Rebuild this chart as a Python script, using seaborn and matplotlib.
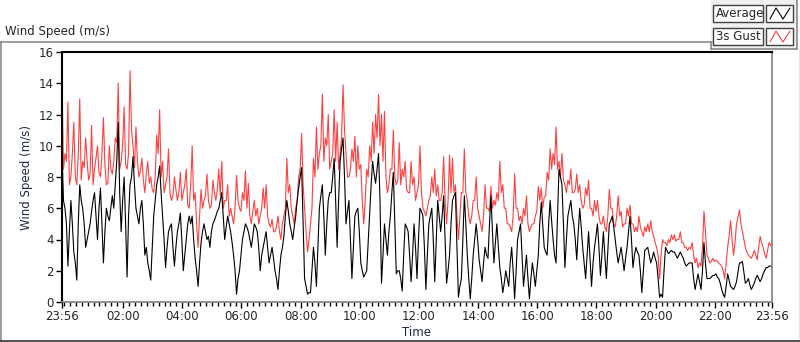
import pandas as pd
import seaborn as sns
import matplotlib.pyplot as plt
import matplotlib.dates as mdates
from matplotlib.lines import Line2D
from matplotlib.patches import Rectangle

# values, one sample every 6 minutes from 23:56 to 23:56
gust = [
    14.2, 9.5, 12.8, 8.0, 11.5, 7.5, 13.0, 9.0, 10.5, 7.8, 11.3, 8.5,
    10.0, 8.0, 11.8, 7.5, 10.0, 8.2, 10.5, 14.0, 9.0, 12.5, 8.5, 14.8,
    10.0, 11.2, 8.0, 9.2, 7.0, 9.0, 8.0, 7.0, 10.7, 12.3, 9.0, 7.5,
    9.8, 6.5, 8.0, 6.5, 8.3, 7.0, 8.5, 6.0, 10.0, 7.0, 3.5, 7.2,
    6.5, 8.2, 6.0, 7.8, 6.5, 8.5, 9.0, 6.5, 7.5, 6.0, 5.0, 8.1,
    6.0, 7.0, 8.4, 7.6, 5.0, 6.5, 6.0, 5.5, 7.3, 7.5, 5.0, 5.3,
    4.5, 5.5, 4.0, 5.5, 9.2, 7.5, 5.5, 6.0, 8.0, 10.8, 6.0, 3.2,
    5.0, 9.2, 11.2, 9.5, 13.3, 10.5, 12.0, 9.0, 12.3, 11.5, 9.5, 13.9,
    9.5, 8.0, 9.8, 10.6, 10.0, 8.8, 5.0, 8.5, 10.0, 11.5, 12.0, 13.3,
    12.0, 12.2, 7.0, 8.5, 11.0, 7.5, 10.2, 8.5, 9.0, 7.0, 9.0, 8.0,
    7.0, 10.0, 6.0, 5.5, 6.5, 8.0, 8.5, 7.5, 6.5, 9.3, 5.0, 9.4,
    9.2, 7.5, 4.0, 7.0, 9.8, 6.5, 5.0, 6.5, 8.0, 5.5, 4.5, 7.5,
    6.0, 7.4, 6.5, 7.0, 9.0, 7.5, 6.0, 5.0, 4.5, 8.2, 6.0, 5.5,
    6.0, 6.8, 4.5, 5.0, 5.5, 7.4, 7.3, 6.7, 8.3, 9.8, 9.5, 11.2,
    9.0, 9.5, 7.5, 7.8, 8.5, 7.0, 8.2, 7.5, 6.0, 7.3, 7.8, 6.0,
    6.5, 6.5, 5.0, 5.5, 4.5, 7.2, 6.0, 4.8, 6.8, 5.8, 5.0, 6.0,
    6.2, 5.0, 4.8, 5.5, 4.5, 4.8, 5.0, 5.2, 4.2, 3.5, 1.5, 4.0,
    3.8, 4.0, 4.3, 4.3, 4.0, 4.5, 3.8, 3.5, 3.5, 3.8, 2.5, 2.2,
    2.3, 5.8, 3.0, 2.5, 2.8, 2.7, 2.5, 2.3, 1.5, 3.5, 5.2, 3.0,
    5.0, 5.9, 4.5, 3.5, 3.0, 2.8, 3.3, 2.7, 4.2, 3.5, 2.8, 3.8,
    3.8,
]
average = [
    9.7, 6.0, 2.3, 6.5, 3.2, 1.4, 7.5, 6.0, 3.5, 4.5, 5.8, 7.0,
    4.0, 7.3, 2.5, 6.0, 5.2, 6.8, 7.5, 11.5, 4.5, 8.0, 1.6, 7.5,
    9.3, 6.0, 5.0, 6.5, 3.0, 2.5, 1.4, 5.5, 7.5, 8.7, 5.5, 2.2,
    4.5, 5.0, 2.3, 4.5, 5.7, 2.0, 4.0, 5.5, 5.5, 2.8, 1.0, 3.8,
    5.0, 4.0, 3.5, 5.0, 5.5, 6.0, 7.0, 4.0, 5.5, 4.5, 3.0, 0.5,
    2.0, 4.0, 5.0, 4.5, 3.5, 5.0, 4.5, 2.0, 3.5, 4.5, 2.5, 3.5,
    2.0, 0.8, 3.0, 4.2, 6.5, 5.0, 4.0, 5.5, 7.3, 8.6, 1.5, 0.5,
    0.6, 3.5, 1.0, 6.0, 7.5, 3.0, 6.5, 7.0, 9.2, 3.5, 9.0, 10.5,
    5.0, 6.5, 1.5, 5.5, 6.0, 2.5, 1.6, 2.0, 5.5, 9.0, 7.6, 9.5,
    1.2, 5.0, 3.0, 5.5, 8.3, 1.8, 2.0, 0.7, 5.0, 4.5, 1.3, 5.0,
    1.5, 6.0, 5.5, 0.8, 5.0, 6.0, 1.3, 6.5, 4.5, 6.8, 1.2, 3.0,
    6.5, 7.0, 0.3, 1.5, 6.8, 3.0, 0.2, 3.0, 5.0, 2.7, 1.3, 3.5,
    2.8, 6.8, 2.5, 5.0, 2.2, 0.6, 2.0, 1.0, 3.5, 0.2, 4.0, 5.0,
    1.0, 3.0, 0.2, 2.5, 1.0, 3.0, 6.4, 3.5, 3.0, 6.5, 4.0, 2.5,
    8.5, 7.5, 2.2, 5.5, 6.5, 5.0, 2.7, 6.0, 3.5, 1.5, 4.5, 1.0,
    3.5, 5.0, 1.7, 4.5, 1.5, 5.0, 5.5, 4.0, 2.5, 3.5, 2.0, 3.5,
    5.5, 2.2, 3.5, 3.0, 0.6, 3.3, 3.5, 2.5, 3.2, 2.5, 0.3, 0.3,
    3.5, 3.1, 3.3, 3.2, 2.8, 3.2, 2.8, 2.3, 2.5, 2.5, 0.8, 1.8,
    0.8, 3.8, 1.5, 1.5, 1.7, 1.8, 1.5, 0.8, 0.3, 1.8, 1.0, 0.8,
    1.3, 2.5, 2.6, 1.2, 1.5, 0.8, 1.2, 1.7, 1.3, 1.8, 2.2, 2.3,
    2.3,
]
# samples read between the ones above (3 minutes later each)
gust_between = [
    8.5, 9.0, 7.5, 9.5, 8.0, 9.5, 7.8, 8.6, 9.0, 8.2, 7.5, 9.2,
    8.3, 9.5, 8.8, 7.6, 8.5, 9.0, 10.2, 8.5, 10.0, 8.8, 9.5, 11.0,
    8.6, 9.0, 8.4, 7.8, 8.2, 7.6, 7.2, 8.0, 9.5, 8.0, 7.0, 8.0,
    7.0, 6.8, 7.2, 7.0, 6.5, 7.5, 6.2, 7.5, 6.5, 5.0, 5.5, 6.0,
    6.8, 6.5, 6.2, 7.0, 7.2, 6.8, 6.0, 6.5, 5.5, 5.5, 6.0, 6.5,
    5.8, 6.5, 6.0, 5.5, 5.8, 5.5, 5.0, 6.0, 6.0, 5.5, 4.8, 4.5,
    4.8, 4.5, 5.0, 6.0, 7.0, 6.0, 5.0, 6.5, 8.5, 7.5, 4.5, 4.0,
    6.0, 8.0, 8.5, 10.0, 9.0, 10.0, 8.5, 9.5, 9.0, 8.5, 10.5, 11.0,
    8.0, 8.5, 9.0, 8.0, 8.5, 6.5, 6.5, 8.0, 9.0, 9.5, 10.5, 10.0,
    9.0, 8.0, 7.5, 8.5, 8.0, 7.8, 7.5, 8.0, 7.2, 7.0, 7.5, 6.5,
    7.5, 7.0, 5.8, 6.0, 6.8, 7.0, 6.8, 6.5, 7.0, 6.5, 6.5, 7.0,
    7.0, 5.5, 5.5, 7.0, 7.0, 5.5, 5.5, 6.5, 6.0, 5.0, 5.5, 6.0,
    5.8, 6.0, 6.2, 6.5, 7.0, 6.0, 5.0, 4.8, 5.5, 6.0, 5.2, 5.0,
    5.5, 5.0, 4.8, 5.0, 5.8, 6.5, 6.0, 6.8, 7.8, 8.5, 8.8, 8.5,
    8.0, 7.8, 7.0, 7.5, 7.0, 7.2, 7.0, 6.5, 6.2, 6.8, 6.0, 5.5,
    5.8, 5.5, 5.0, 4.8, 5.5, 6.0, 5.0, 5.5, 5.5, 4.8, 5.0, 5.5,
    5.0, 4.5, 4.5, 4.8, 4.2, 4.5, 4.5, 4.5, 3.8, 3.0, 3.0, 3.8,
    3.6, 3.8, 4.0, 3.9, 4.0, 3.8, 3.5, 3.3, 3.4, 3.0, 2.8, 2.5,
    3.5, 4.5, 2.8, 2.6, 2.6, 2.6, 2.4, 2.0, 2.5, 4.2, 4.0, 3.8,
    5.4, 5.0, 4.0, 3.2, 2.9, 3.0, 3.0, 3.5, 3.8, 3.1, 3.3, 3.6,
]
average_between = [
    6.5, 5.0, 4.5, 5.0, 2.5, 5.0, 6.5, 5.0, 4.0, 5.0, 6.5, 5.5,
    6.0, 5.0, 4.5, 5.5, 6.0, 6.0, 9.0, 7.0, 6.5, 5.0, 5.5, 8.0,
    7.5, 5.5, 6.0, 5.0, 3.5, 2.0, 3.5, 6.5, 8.0, 7.0, 4.0, 3.5,
    4.8, 3.5, 3.5, 5.0, 4.0, 3.0, 5.0, 5.0, 4.0, 2.0, 2.5, 4.5,
    4.5, 4.2, 4.5, 5.2, 5.8, 6.5, 5.5, 4.8, 5.0, 3.8, 2.0, 1.5,
    3.0, 4.5, 4.8, 4.0, 4.2, 4.8, 3.5, 3.0, 4.0, 3.5, 3.0, 2.8,
    1.5, 2.0, 3.5, 5.5, 5.8, 4.5, 4.8, 6.5, 8.0, 5.0, 1.0, 0.6,
    2.0, 2.5, 3.5, 6.8, 5.5, 5.0, 7.0, 8.0, 6.5, 6.5, 9.8, 8.0,
    5.8, 4.0, 3.5, 5.8, 4.5, 2.0, 1.8, 3.8, 7.5, 8.2, 8.5, 6.5,
    3.0, 4.0, 4.5, 7.0, 5.0, 2.0, 1.5, 3.0, 4.8, 3.0, 3.0, 3.5,
    4.0, 5.8, 3.5, 3.0, 5.5, 4.0, 4.0, 5.5, 5.5, 4.0, 2.0, 5.0,
    6.8, 3.5, 1.0, 4.0, 5.0, 1.5, 1.5, 4.0, 4.0, 2.0, 2.5, 3.0,
    5.0, 4.5, 3.8, 3.5, 1.5, 1.2, 1.5, 2.5, 2.0, 2.0, 4.5, 3.0,
    2.0, 1.5, 1.5, 1.8, 2.0, 5.0, 5.0, 3.2, 5.0, 5.2, 3.0, 5.5,
    8.0, 5.0, 4.0, 6.0, 5.5, 4.0, 4.5, 4.8, 2.5, 3.0, 2.8, 2.5,
    4.2, 3.5, 3.0, 3.0, 3.2, 5.2, 4.8, 3.2, 3.0, 2.8, 2.8, 4.5,
    4.0, 3.0, 3.2, 2.0, 2.0, 3.4, 3.0, 2.8, 2.8, 1.5, 0.5, 2.0,
    3.3, 3.2, 3.2, 3.0, 3.0, 3.0, 2.5, 2.4, 2.5, 1.5, 1.3, 1.3,
    2.0, 2.5, 1.5, 1.6, 1.7, 1.6, 1.2, 0.5, 1.0, 1.4, 0.9, 1.0,
    1.9, 2.5, 1.9, 1.3, 1.1, 1.0, 1.5, 1.5, 1.5, 2.0, 2.2, 2.3,
]
y_ticks = [0, 2, 4, 6, 8, 10, 12, 14, 16]

times = pd.date_range("2000-01-01 23:56", periods=len(gust), freq="6min")
times_between = times[:-1] + pd.Timedelta(minutes=3)
df = pd.concat([
    pd.DataFrame({"Time": times, "3s Gust": gust, "Average": average}),
    pd.DataFrame({"Time": times_between, "3s Gust": gust_between, "Average": average_between}),
]).sort_values("Time").reset_index(drop=True)

sns.set_style("white")
plt.rcParams["font.family"] = ["DejaVu Sans"]

W, H = 800, 342


def fx(x):
    return x / W


def fy(y):
    return 1 - y / H


fig = plt.figure(figsize=(8, 3.42), dpi=100)
ax = fig.add_axes([fx(62), fy(302), 710 / W, 250 / H])

sns.lineplot(data=df, x="Time", y="3s Gust", color="#ff4040", lw=0.8, ax=ax)
sns.lineplot(data=df, x="Time", y="Average", color="black", lw=0.8, ax=ax)

ax.set_xlim(times[0], times[-1])
ax.set_ylim(0, 16)
ax.set_yticks(y_ticks)
major = [times[0]] + list(pd.date_range("2000-01-02 02:00", "2000-01-02 22:00", freq="2h")) + [times[-1]]
ax.set_xticks(major)
ax.xaxis.set_major_formatter(mdates.DateFormatter("%H:%M"))
ax.xaxis.set_minor_locator(mdates.MinuteLocator(byminute=[0, 12, 24, 36, 48]))
ax.tick_params(axis="both", which="major", direction="out", length=4, width=1,
               labelsize=8.5, pad=2, color="black", bottom=True, left=True)
ax.tick_params(axis="x", which="minor", direction="out", length=3, width=1,
               color="black", bottom=True)

ax.set_xlabel("Time", fontsize=8.5, labelpad=2, color="#1b2a4a")
ax.set_ylabel("Wind Speed (m/s)", fontsize=8.5, labelpad=4, color="#1b2a4a")

for side in ["top", "left"]:
    ax.spines[side].set_color("black")
    ax.spines[side].set_linewidth(1.5)
for side in ["bottom", "right"]:
    ax.spines[side].set_color("#808080")
    ax.spines[side].set_linewidth(1.2)

# panel frame
gray = "#8a8a8a"
fig.add_artist(Line2D([fx(0), fx(712)], [fy(42), fy(42)], color=gray, lw=1.2))
fig.add_artist(Line2D([fx(0.5), fx(0.5)], [fy(42), fy(342)], color=gray, lw=1.2))
fig.add_artist(Line2D([fx(0), fx(800)], [fy(340.5), fy(340.5)], color="#333333", lw=1.2))
fig.add_artist(Line2D([fx(799.5), fx(799.5)], [fy(49), fy(342)], color=gray, lw=1.0))
fig.text(fx(5), fy(32), "Wind Speed (m/s)", fontsize=8.5, va="center", ha="left")

# legend panel
fig.add_artist(Rectangle((fx(711), fy(49)), 86 / W, 49 / H, facecolor="#f0f0f0",
                         edgecolor="none"))
fig.add_artist(Line2D([fx(711), fx(797)], [fy(48.5), fy(48.5)], color=gray, lw=1.2))
fig.add_artist(Line2D([fx(797), fx(797)], [fy(0), fy(49)], color=gray, lw=1.2))
fig.add_artist(Line2D([fx(711), fx(711)], [fy(42), fy(49)], color=gray, lw=1.2))

for top, name, col in [(5, "Average", "black"), (28, "3s Gust", "#ff4040")]:
    fig.add_artist(Rectangle((fx(713), fy(top + 17)), 50 / W, 17 / H, facecolor="white",
                             edgecolor="#404040", lw=1.0))
    fig.text(fx(716), fy(top + 8.5), name, fontsize=8.5, va="center", ha="left")
    fig.add_artist(Rectangle((fx(766), fy(top + 17)), 27 / W, 17 / H, facecolor="white",
                             edgecolor="#404040", lw=1.0))
    zx = [770, 776, 783, 790]
    zy = [top + 14, top + 3, top + 14, top + 3]
    fig.add_artist(Line2D([fx(v) for v in zx], [fy(v) for v in zy], color=col, lw=0.8))

fig.savefig("out.png", dpi=100)
